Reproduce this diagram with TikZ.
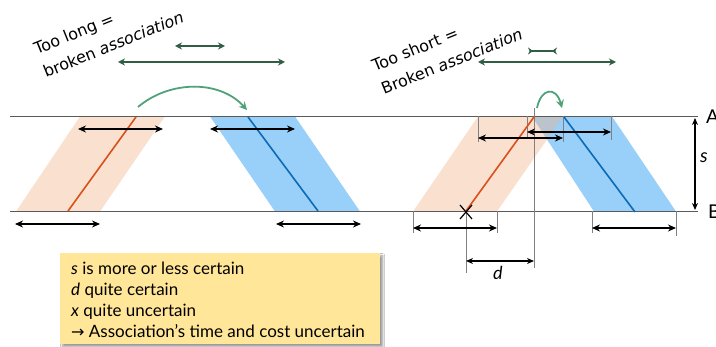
\documentclass[tikz,border=0pt]{standalone}
\usepackage{fontspec}
\usepackage{graphicx}
\setmainfont{Lato}
\newfontfamily\symfont{DejaVu Sans}
\usetikzlibrary{arrows.meta,shadows.blur}
\definecolor{pinkband}{RGB}{244,177,131}
\definecolor{blueband}{RGB}{153,208,250}
\definecolor{orangeline}{RGB}{217,80,28}
\definecolor{blueline}{RGB}{15,106,180}
\definecolor{dkgreen}{RGB}{47,94,69}
\definecolor{curvegreen}{RGB}{80,162,122}
\definecolor{notefill}{RGB}{255,230,153}
\definecolor{railgray}{RGB}{90,90,90}
\newcommand{\tiltedtext}[2]{\rotatebox{22}{\begin{tabular}[b]{@{}l@{}}#1\\#2\end{tabular}}}
\tikzset{
  rail/.style={railgray, line width=1pt},
  tick/.style={gray, line width=0.6pt},
  dim/.style={black, line width=1.8pt, {Stealth[length=8pt,width=7pt]}-{Stealth[length=8pt,width=7pt]}},
  thindim/.style={black, line width=1.3pt, {Stealth[length=7pt,width=6pt]}-{Stealth[length=7pt,width=6pt]}},
  gdim/.style={dkgreen, line width=1.8pt, {Stealth[length=7pt,width=7pt]}-{Stealth[length=7pt,width=7pt]}},
  hop/.style={curvegreen, line width=1.8pt, -{Stealth[length=8pt,width=8pt]}},
  pinkfill/.style={fill=pinkband, fill opacity=0.38},
  bluefill/.style={fill=blueband},
  lbl/.style={font=\fontsize{17}{21}\selectfont, inner sep=0pt},
  tilted/.style={font=\symfont\fontsize{16}{25}\selectfont, inner sep=0pt, anchor=base west},
}
\begin{document}
\begin{tikzpicture}[x=1pt,y=-1pt]
\useasboundingbox (0,0) rectangle (716,347);
\fill[white] (0,0) rectangle (716,347);

% ---------- left figure bands ----------
\fill[bluefill] (210,116.5) -- (295,116.5) -- (360,211.5) -- (275,211.5) -- cycle;
\fill[pinkfill] (80,116.5) -- (165,116.5) -- (100,211.5) -- (16,211.5) -- cycle;
% ---------- right figure bands ----------
\fill[bluefill] (532,116.5) -- (612,116.5) -- (676,211.5) -- (594,211.5) -- cycle;
\fill[pinkfill] (478,116.5) -- (563,116.5) -- (497,211.5) -- (413,211.5) -- cycle;

% ---------- rails ----------
\draw[rail] (10,116.5) coordinate (A0) -- (698,116.5) coordinate (A1);
\draw[rail] (10,211.5) coordinate (B0) -- (698,211.5) coordinate (B1);
\node[lbl, font=\fontsize{19}{21}\selectfont, anchor=west] (labA) at (706,116.5) {A};
\node[lbl, font=\fontsize{19}{21}\selectfont, anchor=west] (labB) at (708,212) {B};

% ---------- left figure lines ----------
\draw[orangeline, line width=1.6pt] (136,117) -- (68,211);
\draw[blueline, line width=1.6pt] (248,117) -- (318,211);
\draw[dim] (78,129) -- (163,129);
\draw[dim] (210,129) -- (295,129);
\draw[dim] (15,224) -- (100,224);
\draw[dim] (276,224) -- (361,224);
\draw[hop] (138,107) .. controls (170,80) and (220,80) .. (247,110);
\draw[gdim] (175,46) -- (225,46);
\draw[gdim] (118,62) -- (285,62);

% ---------- right figure lines ----------
\draw[tick] (534,108) -- (534,268);
\draw[tick] (478,116.5) -- (478,142);
\draw[tick] (563,116.5) -- (563,142);
\draw[tick] (527,116.5) -- (527,137);
\draw[tick] (611,116.5) -- (611,140);
\draw[tick] (413,211.5) -- (413,233);
\draw[tick] (497,211.5) -- (497,233);
\draw[tick] (466,211.5) -- (466,273);
\draw[tick] (592,211.5) -- (592,233);
\draw[tick] (676,211.5) -- (676,236);

\draw[orangeline, line width=1.6pt] (534,117) -- (466,211);
\draw[blueline, line width=1.6pt] (564,117) -- (635,212);
\draw[black, line width=1.2pt] (460,205) -- (472,219) (472,205) -- (460,219);

\draw[dim] (527,132) -- (611,132);
\draw[dim] (478,138) -- (563,138);
\draw[dim] (413,228) -- (497,228);
\draw[dim] (592,228) -- (676,228);
\draw[thindim] (466,261) -- (534,261);
\node[lbl, font=\fontsize{18}{21}\selectfont\itshape] (labd) at (498,273) {d};
\draw[thindim] (695,118) -- (695,210);
\node[lbl, font=\fontsize{19}{21}\selectfont\itshape] (labs) at (704,158) {s};

\draw[hop] (537,108) .. controls (541,88) and (556,86) .. (562,108);
\draw[dkgreen, line width=1.8pt, {Stealth[length=5pt,width=7pt,reversed]}-{Stealth[length=5pt,width=7pt,reversed]}] (528,51) -- (557,51);
\draw[gdim] (478,62) -- (616,62);

% ---------- tilted captions ----------
\node[tilted] (longtxt) at (30,78) {\tiltedtext{Too long =}{broken \textit{association}}};
\node[tilted] (shorttxt) at (368,95) {\tiltedtext{Too short =}{Broken \textit{association}}};

% ---------- note box ----------
\node[anchor=north west, fill=notefill, minimum width=320pt, minimum height=91pt,
      inner sep=0pt, blur shadow={shadow xshift=2.5pt, shadow yshift=-2.5pt, shadow blur steps=6}] (note) at (60,253) {};
\node[lbl, anchor=north west, align=left] (notetxt) at (71,262)
  {\textit{s} is more or less certain\\
   \textit{d} quite certain\\
   \textit{x} quite uncertain\\
   {\symfont\fontsize{16}{21}\selectfont →} Association’s time and cost uncertain};
\end{tikzpicture}
\end{document}
